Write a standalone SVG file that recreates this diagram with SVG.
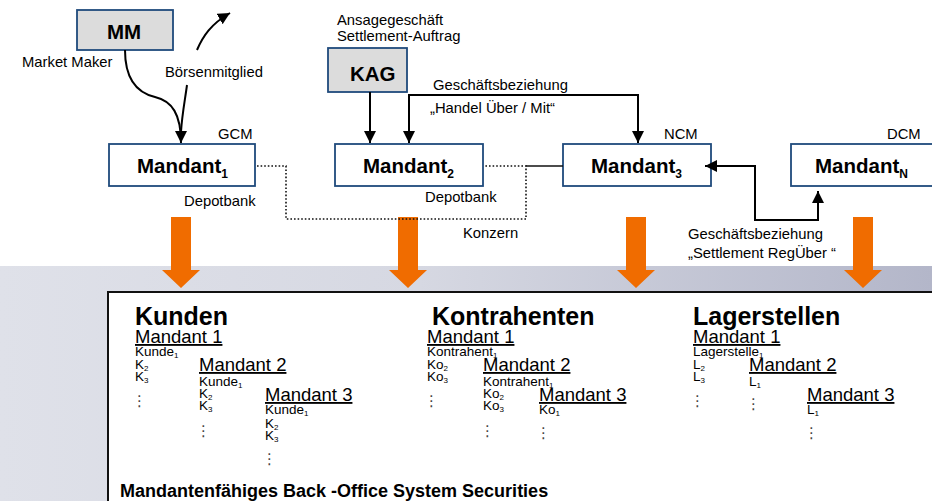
<svg xmlns="http://www.w3.org/2000/svg" width="932" height="501" viewBox="0 0 932 501">
  <defs>
    <linearGradient id="band" x1="0" y1="0" x2="1" y2="0">
      <stop offset="0" stop-color="#dfe1e9"/>
      <stop offset="0.45" stop-color="#d6d8e2"/>
      <stop offset="1" stop-color="#b3b6c9"/>
    </linearGradient>
    <marker id="ah" viewBox="0 0 10 10" refX="10" refY="5" markerWidth="12" markerHeight="12" markerUnits="userSpaceOnUse" orient="auto-start-reverse">
      <path d="M0,0 L10,5 L0,10 z" fill="#000"/>
    </marker>
    <polygon id="bigArrow" points="-10,0 10,0 10,53 19,53 0,71 -19,53 -10,53" fill="#f06c00"/>
  </defs>
  <style>
    text { font-family: "Liberation Sans", Arial, sans-serif; fill: #000; }
    .lbl { font-size: 14.8px; }
    .box { fill: #fff; stroke: #1f4a7c; stroke-width: 1.8; }
    .gbox { fill: #dcdcdc; stroke: #1f4a7c; stroke-width: 1.8; }
    .bname { font-size: 20.5px; font-weight: bold; }
    .sub { font-size: 12px; font-weight: bold; }
    .conn { fill: none; stroke: #000; stroke-width: 2; }
    .dot { fill: none; stroke: #111; stroke-width: 1.6; stroke-dasharray: 1.6 2; }
    .head { font-size: 25px; font-weight: bold; }
    .mh { font-size: 18.5px; text-decoration: underline; }
    .it { font-size: 13.5px; }
    .s { font-size: 8px; }
    .ell { font-family: "DejaVu Sans", sans-serif; font-size: 15px; fill: #444; }
  </style>

  <!-- lower band and back-office panel -->
  <rect x="0" y="266" width="932" height="235" fill="url(#band)"/>
  <rect x="108" y="292" width="840" height="220" fill="#fff" stroke="#111" stroke-width="2"/>

  <!-- flows into the back-office system -->
  <g id="flows">
    <use href="#bigArrow" x="181" y="217"/>
    <use href="#bigArrow" x="408" y="217"/>
    <use href="#bigArrow" x="636" y="217"/>
    <use href="#bigArrow" x="863" y="217"/>
  </g>

  <!-- nodes -->
  <g id="mm">
    <rect class="gbox" x="77" y="10" width="96" height="40"/>
    <text class="bname" x="107" y="39">MM</text>
  </g>
  <g id="kag">
    <rect class="gbox" x="328" y="48" width="79" height="44"/>
    <text class="bname" x="350" y="81">KAG</text>
  </g>
  <g id="mandant1">
    <rect class="box" x="109" y="144" width="146" height="42"/>
    <text class="bname" x="137" y="173">Mandant<tspan class="sub" dy="5">1</tspan></text>
  </g>
  <g id="mandant2">
    <rect class="box" x="335" y="144" width="148" height="42"/>
    <text class="bname" x="363" y="173">Mandant<tspan class="sub" dy="5">2</tspan></text>
  </g>
  <g id="mandant3">
    <rect class="box" x="563" y="144" width="148" height="42"/>
    <text class="bname" x="591" y="173">Mandant<tspan class="sub" dy="5">3</tspan></text>
  </g>
  <g id="mandantN">
    <rect class="box" x="791" y="144" width="150" height="42"/>
    <text class="bname" x="815" y="173">Mandant<tspan class="sub" dy="5">N</tspan></text>
  </g>

  <!-- connectors -->
  <g id="connectors">
    <path class="conn" d="M125,50 C125,80 138,93 155,97 C172,101 181,114 181,143" marker-end="url(#ah)"/>
    <path class="conn" d="M187,85 C185,100 182,115 181,132"/>
    <path class="conn" d="M197,50 C203,36 211,24 230,13" marker-end="url(#ah)"/>
    <path class="conn" d="M370,92 V143" marker-end="url(#ah)"/>
    <path class="conn" d="M409,143 V95 H638 V143" marker-start="url(#ah)" marker-end="url(#ah)"/>
    <path class="conn" d="M705,166 H755 V220 H818 V191" marker-start="url(#ah)" marker-end="url(#ah)"/>
    <path class="dot" d="M257,166 H286 V219 H526 V166 H485"/>
    <path d="M526,166 H563" stroke="#111" stroke-width="1.3" fill="none"/>
  </g>

  <!-- labels -->
  <g id="labels">
    <text class="lbl" x="22" y="67">Market Maker</text>
    <text class="lbl" x="165" y="77">Börsenmitglied</text>
    <text class="lbl" x="218" y="139">GCM</text>
    <text class="lbl" x="337" y="25">Ansagegeschäft</text>
    <text class="lbl" x="337" y="41">Settlement-Auftrag</text>
    <text class="lbl" x="433" y="90">Geschäftsbeziehung</text>
    <text class="lbl" x="430" y="113">„Handel Über / Mit“</text>
    <text class="lbl" x="664" y="139">NCM</text>
    <text class="lbl" x="887" y="139">DCM</text>
    <text class="lbl" x="184" y="206">Depotbank</text>
    <text class="lbl" x="425" y="202">Depotbank</text>
    <text class="lbl" x="463" y="238">Konzern</text>
    <text class="lbl" x="688" y="239">Geschäftsbeziehung</text>
    <text class="lbl" x="688" y="258">„Settlement RegÜber “</text>
  </g>

  <!-- back-office contents: Kunden -->
  <g id="kunden">
    <text class="head" x="135" y="325">Kunden</text>
    <text class="mh" x="135" y="343">Mandant 1</text>
    <text class="it" x="135" y="356">Kunde<tspan class="s" dy="2">1</tspan></text>
    <text class="it" x="135" y="369">K<tspan class="s" dy="2">2</tspan></text>
    <text class="it" x="135" y="381">K<tspan class="s" dy="2">3</tspan></text>
    <text class="ell" x="132" y="406">⋮</text>
    <text class="mh" x="199" y="371">Mandant 2</text>
    <text class="it" x="199" y="386">Kunde<tspan class="s" dy="2">1</tspan></text>
    <text class="it" x="199" y="398">K<tspan class="s" dy="2">2</tspan></text>
    <text class="it" x="199" y="410">K<tspan class="s" dy="2">3</tspan></text>
    <text class="ell" x="196" y="436">⋮</text>
    <text class="mh" x="265" y="401">Mandant 3</text>
    <text class="it" x="265" y="414">Kunde<tspan class="s" dy="2">1</tspan></text>
    <text class="it" x="265" y="428">K<tspan class="s" dy="2">2</tspan></text>
    <text class="it" x="265" y="440">K<tspan class="s" dy="2">3</tspan></text>
    <text class="ell" x="262" y="464">⋮</text>
  </g>

  <!-- back-office contents: Kontrahenten -->
  <g id="kontrahenten">
    <text class="head" x="432" y="325">Kontrahenten</text>
    <text class="mh" x="427" y="343">Mandant 1</text>
    <text class="it" x="427" y="356">Kontrahent<tspan class="s" dy="2">1</tspan></text>
    <text class="it" x="427" y="369">Ko<tspan class="s" dy="2">2</tspan></text>
    <text class="it" x="427" y="381">Ko<tspan class="s" dy="2">3</tspan></text>
    <text class="ell" x="424" y="406">⋮</text>
    <text class="mh" x="483" y="371">Mandant 2</text>
    <text class="it" x="483" y="386">Kontrahent<tspan class="s" dy="2">1</tspan></text>
    <text class="it" x="483" y="398">Ko<tspan class="s" dy="2">2</tspan></text>
    <text class="it" x="483" y="410">Ko<tspan class="s" dy="2">3</tspan></text>
    <text class="ell" x="480" y="436">⋮</text>
    <text class="mh" x="539" y="401">Mandant 3</text>
    <text class="it" x="539" y="414">Ko<tspan class="s" dy="2">1</tspan></text>
    <text class="ell" x="536" y="438">⋮</text>
  </g>

  <!-- back-office contents: Lagerstellen -->
  <g id="lagerstellen">
    <text class="head" x="693" y="325">Lagerstellen</text>
    <text class="mh" x="693" y="343">Mandant 1</text>
    <text class="it" x="693" y="356">Lagerstelle<tspan class="s" dy="2">1</tspan></text>
    <text class="it" x="693" y="369">L<tspan class="s" dy="2">2</tspan></text>
    <text class="it" x="693" y="381">L<tspan class="s" dy="2">3</tspan></text>
    <text class="ell" x="690" y="406">⋮</text>
    <text class="mh" x="749" y="371">Mandant 2</text>
    <text class="it" x="749" y="386">L<tspan class="s" dy="2">1</tspan></text>
    <text class="ell" x="746" y="409">⋮</text>
    <text class="mh" x="807" y="401">Mandant 3</text>
    <text class="it" x="807" y="414">L<tspan class="s" dy="2">1</tspan></text>
    <text class="ell" x="804" y="438">⋮</text>
  </g>

  <text x="120" y="497" font-size="18" font-weight="bold">Mandantenfähiges Back -Office System Securities</text>
</svg>
